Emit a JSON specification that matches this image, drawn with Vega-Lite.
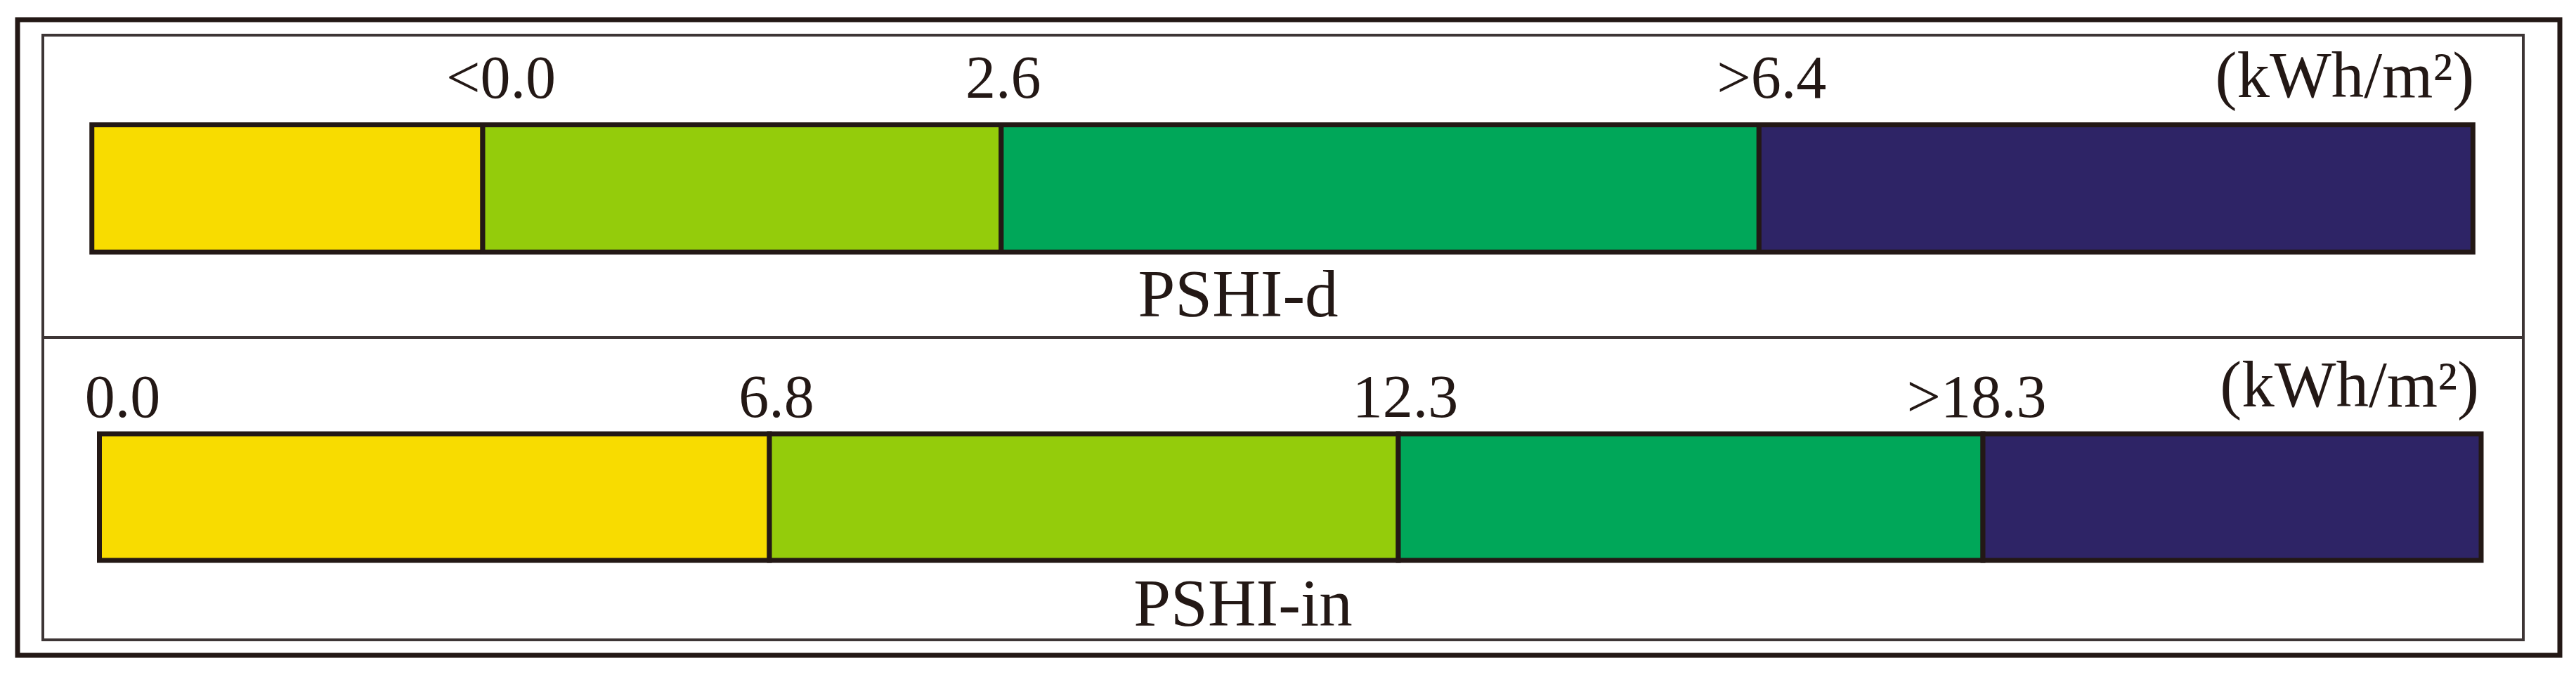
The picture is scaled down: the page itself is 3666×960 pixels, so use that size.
{
  "$schema": "https://vega.github.io/schema/vega-lite/v6.json",
  "width": 3618,
  "height": 904,
  "autosize": {"type": "none"},
  "padding": {"left": 25, "top": 28, "right": 23, "bottom": 28},
  "background": "#ffffff",
  "config": {"view": {"stroke": "#231815", "strokeWidth": 7}, "font": "Liberation Serif"},
  "datasets": {
    "panels": [{"panel": "PSHI-d"}, {"panel": "PSHI-in"}],
    "classes": [
      {"panel": "PSHI-d", "level": "1", "lo": -1.96, "hi": 0},
      {"panel": "PSHI-d", "level": "2", "lo": 0, "hi": 2.6},
      {"panel": "PSHI-d", "level": "3", "lo": 2.6, "hi": 6.4},
      {"panel": "PSHI-d", "level": "4", "lo": 6.4, "hi": 9.98},
      {"panel": "PSHI-in", "level": "1", "lo": 0, "hi": 6.8},
      {"panel": "PSHI-in", "level": "2", "lo": 6.8, "hi": 12.3},
      {"panel": "PSHI-in", "level": "3", "lo": 12.3, "hi": 18.3},
      {"panel": "PSHI-in", "level": "4", "lo": 18.3, "hi": 23.4}
    ],
    "breaks": [
      {"panel": "PSHI-d", "value": 0, "label": "<0.0"},
      {"panel": "PSHI-d", "value": 2.6, "label": "2.6"},
      {"panel": "PSHI-d", "value": 6.4, "label": ">6.4"},
      {"panel": "PSHI-in", "value": 0, "label": "0.0"},
      {"panel": "PSHI-in", "value": 6.8, "label": "6.8"},
      {"panel": "PSHI-in", "value": 12.3, "label": "12.3"},
      {"panel": "PSHI-in", "value": 18.3, "label": ">18.3"}
    ]
  },
  "resolve": {"scale": {"x": "independent"}},
  "layer": [
    {
      "data": {"name": "panels"},
      "layer": [
        {
          "mark": {"type": "rect", "fillOpacity": 0, "stroke": "#3d3535", "strokeWidth": 4},
          "encoding": {
            "x": {"datum": "all", "type": "nominal", "scale": {"type": "band", "domain": ["all"], "paddingInner": 0, "paddingOuter": 0.012465, "align": 0.409}, "axis": null},
            "y": {"field": "panel", "type": "nominal", "scale": {"type": "band", "domain": ["PSHI-d", "PSHI-in"], "paddingInner": 0, "paddingOuter": 0.05116}, "axis": null}
          }
        },
        {
          "mark": {"type": "text", "fontSize": 95, "baseline": "alphabetic", "align": "center", "color": "#231815",
            "dx": {"expr": "datum.panel === 'PSHI-d' ? -64 : -57"},
            "dy": {"expr": "datum.panel === 'PSHI-d' ? 185 : 195"}},
          "encoding": {
            "x": {"datum": "all", "type": "nominal", "scale": {"type": "band", "domain": ["all"], "paddingInner": 0, "paddingOuter": 0.012465, "align": 0.409}, "axis": null},
            "y": {"field": "panel", "type": "nominal", "scale": {"type": "band", "domain": ["PSHI-d", "PSHI-in"], "paddingInner": 0, "paddingOuter": 0.05116}, "axis": null},
            "text": {"field": "panel"}
          }
        }
      ]
    },
    {
      "layer": [
        {
          "data": {"name": "classes"},
          "transform": [{"filter": "datum.panel === 'PSHI-d'"}],
          "mark": {"type": "bar", "size": 181, "yOffset": 3, "stroke": "#231815", "strokeWidth": 7},
          "encoding": {
            "x": {"field": "lo", "type": "quantitative", "scale": {"domain": [-2.3326, 10.4158], "nice": false, "zero": false}, "axis": null},
            "x2": {"field": "hi"},
            "y": {"field": "panel", "type": "nominal", "scale": {"type": "band", "domain": ["PSHI-d", "PSHI-in"], "paddingInner": 0, "paddingOuter": 0.05116}, "axis": null},
            "color": {"field": "level", "type": "nominal", "scale": {"domain": ["1", "2", "3", "4"], "range": ["#f8dc00", "#94cc0b", "#00a759", "#2e2466"]}, "legend": null}
          }
        },
        {
          "data": {"name": "breaks"},
          "transform": [{"filter": "datum.panel === 'PSHI-d'"}],
          "mark": {"type": "text", "fontSize": 86, "baseline": "alphabetic", "align": "center", "color": "#231815", "dy": -126,
            "dx": {"expr": "datum.label === '<0.0' ? 26 : datum.label === '>6.4' ? 18 : 3"}},
          "encoding": {
            "x": {"field": "value", "type": "quantitative", "scale": {"domain": [-2.3326, 10.4158], "nice": false, "zero": false}, "axis": null},
            "y": {"field": "panel", "type": "nominal", "scale": {"type": "band", "domain": ["PSHI-d", "PSHI-in"], "paddingInner": 0, "paddingOuter": 0.05116}, "axis": null},
            "text": {"field": "label"}
          }
        },
        {
          "data": {"name": "classes"},
          "transform": [{"filter": "datum.panel === 'PSHI-d' && datum.level === '4'"}],
          "mark": {"type": "text", "fontSize": 93, "baseline": "alphabetic", "align": "right", "color": "#231815", "dy": -127, "dx": 2},
          "encoding": {
            "x": {"field": "hi", "type": "quantitative", "scale": {"domain": [-2.3326, 10.4158], "nice": false, "zero": false}, "axis": null},
            "y": {"field": "panel", "type": "nominal", "scale": {"type": "band", "domain": ["PSHI-d", "PSHI-in"], "paddingInner": 0, "paddingOuter": 0.05116}, "axis": null},
            "text": {"value": "(kWh/m²)"}
          }
        }
      ]
    },
    {
      "layer": [
        {
          "data": {"name": "classes"},
          "transform": [{"filter": "datum.panel === 'PSHI-in'"}],
          "mark": {"type": "bar", "size": 180, "yOffset": 12, "stroke": "#231815", "strokeWidth": 7},
          "encoding": {
            "x": {"field": "lo", "type": "quantitative", "scale": {"domain": [0, 6.8, 12.3, 18.3, 23.4], "range": [116.5, 1070, 1965, 2797, 3506], "nice": false, "zero": false}, "axis": null},
            "x2": {"field": "hi"},
            "y": {"field": "panel", "type": "nominal", "scale": {"type": "band", "domain": ["PSHI-d", "PSHI-in"], "paddingInner": 0, "paddingOuter": 0.05116}, "axis": null},
            "color": {"field": "level", "type": "nominal", "scale": {"domain": ["1", "2", "3", "4"], "range": ["#f8dc00", "#94cc0b", "#00a759", "#2e2466"]}, "legend": null}
          }
        },
        {
          "data": {"name": "breaks"},
          "transform": [{"filter": "datum.panel === 'PSHI-in'"}],
          "mark": {"type": "text", "fontSize": 86, "baseline": "alphabetic", "align": "center", "color": "#231815", "dy": -102,
            "dx": {"expr": "datum.label === '0.0' ? 33 : datum.label === '>18.3' ? -9 : 10"}},
          "encoding": {
            "x": {"field": "value", "type": "quantitative", "scale": {"domain": [0, 6.8, 12.3, 18.3, 23.4], "range": [116.5, 1070, 1965, 2797, 3506], "nice": false, "zero": false}, "axis": null},
            "y": {"field": "panel", "type": "nominal", "scale": {"type": "band", "domain": ["PSHI-d", "PSHI-in"], "paddingInner": 0, "paddingOuter": 0.05116}, "axis": null},
            "text": {"field": "label"}
          }
        },
        {
          "data": {"name": "classes"},
          "transform": [{"filter": "datum.panel === 'PSHI-in' && datum.level === '4'"}],
          "mark": {"type": "text", "fontSize": 93, "baseline": "alphabetic", "align": "right", "color": "#231815", "dy": -117, "dx": -3},
          "encoding": {
            "x": {"field": "hi", "type": "quantitative", "scale": {"domain": [0, 6.8, 12.3, 18.3, 23.4], "range": [116.5, 1070, 1965, 2797, 3506], "nice": false, "zero": false}, "axis": null},
            "y": {"field": "panel", "type": "nominal", "scale": {"type": "band", "domain": ["PSHI-d", "PSHI-in"], "paddingInner": 0, "paddingOuter": 0.05116}, "axis": null},
            "text": {"value": "(kWh/m²)"}
          }
        }
      ]
    }
  ]
}
